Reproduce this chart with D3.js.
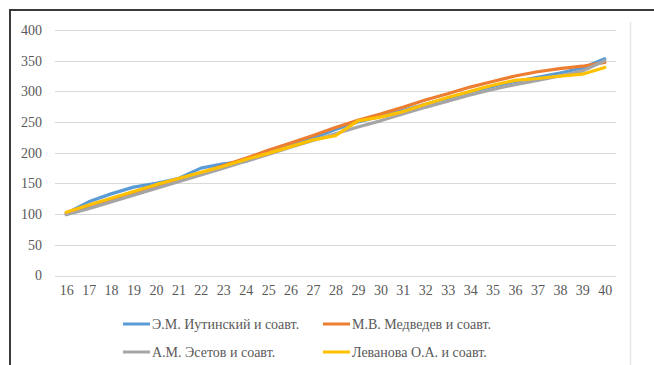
<!DOCTYPE html>
<html>
<head>
<meta charset="utf-8">
<script src="https://cdn.jsdelivr.net/npm/d3@7"></script>
<style>
  html, body { margin: 0; padding: 0; background: #fff; }
  svg { display: block; }
</style>
</head>
<body>
<svg id="chart" width="654" height="365"></svg>
<script>
// Categories (x axis) and series values
const categories = ["16","17","18","19","20","21","22","23","24","25","26","27","28","29","30","31","32","33","34","35","36","37","38","39","40"];
const yTicks = [0, 50, 100, 150, 200, 250, 300, 350, 400];

const seriesNames = [
  "Э.М. Иутинский и соавт.",
  "М.В. Медведев и соавт.",
  "А.М. Эсетов и соавт.",
  "Леванова О.А. и соавт."
];
const seriesColors = ["#5B9BD5", "#ED7D31", "#A5A5A5", "#FFC000"];

const iutinsky  = [101,120,133,144,150,158,175,182,186,199,211,224,238,250,259,269,279,289,299,308,316,323,330,338,353];
const medvedev  = [101,112,123,134,144,155,167,179,191,204,216,228,241,253,263,274,286,296,307,316,325,332,337,341,347];
const esetov    = [ 99,109,120,131,142,153,164,175,186,197,209,220,231,242,252,263,274,284,294,303,311,318,325,333,350];
const levanova  = [103,115,126,137,148,158,168,178,189,199,210,221,228,252,258,267,279,290,300,310,318,321,325,328,339];

const seriesValues = [iutinsky, medvedev, esetov, levanova];

const FONT = "'Liberation Serif', 'Times New Roman', serif";
const TEXT_COLOR = "#595959";

const svg = d3.select("#chart");

// Outer frame
svg.append("path")
  .attr("d", "M10,365 V10 H654")
  .attr("fill", "none")
  .attr("stroke", "#3a3a3a")
  .attr("stroke-width", 2);

// Right separator line
svg.append("line")
  .attr("x1", 630.5).attr("x2", 630.5)
  .attr("y1", 22).attr("y2", 365)
  .attr("stroke", "#e6e6e6").attr("stroke-width", 1.5);

const plot = { left: 55, right: 616, top: 30, bottom: 275.5 };

const x = d3.scalePoint()
  .domain(categories)
  .range([plot.left, plot.right])
  .padding(0.5);

const y = d3.scaleLinear()
  .domain([0, 400])
  .range([plot.bottom, plot.top]);

// Gridlines
svg.append("g")
  .selectAll("line")
  .data(yTicks)
  .join("line")
  .attr("x1", plot.left).attr("x2", plot.right)
  .attr("y1", d => Math.round(y(d)) + 0.5)
  .attr("y2", d => Math.round(y(d)) + 0.5)
  .attr("stroke", "#d9d9d9").attr("stroke-width", 1);

// Y axis labels
const yAxis = d3.axisLeft(y).tickValues(yTicks).tickSize(0).tickPadding(0);
const gy = svg.append("g")
  .attr("transform", `translate(${plot.left - 13},0)`)
  .call(yAxis);
gy.select(".domain").remove();
gy.selectAll("text")
  .style("font-family", FONT)
  .style("font-size", "14px")
  .style("fill", TEXT_COLOR);

// X axis labels
const xAxis = d3.axisBottom(x).tickSize(0).tickPadding(0);
const gx = svg.append("g")
  .attr("transform", `translate(0,${plot.bottom + 10})`)
  .call(xAxis);
gx.select(".domain").remove();
gx.selectAll("text")
  .style("font-family", FONT)
  .style("font-size", "14px")
  .style("fill", TEXT_COLOR);

// Series lines
const line = d3.line()
  .x((d, i) => x(categories[i]))
  .y(d => y(d));

seriesValues.forEach((vals, k) => {
  svg.append("path")
    .datum(vals)
    .attr("d", line)
    .attr("fill", "none")
    .attr("stroke", seriesColors[k])
    .attr("stroke-width", 3.2)
    .attr("stroke-linejoin", "round")
    .attr("stroke-linecap", "round");
});

// Legend (2 x 2)
const legendPos = [
  { x: 123, y: 324 },
  { x: 323, y: 324 },
  { x: 123, y: 352 },
  { x: 323, y: 352 }
];
const legend = svg.append("g");
seriesNames.forEach((name, k) => {
  const p = legendPos[k];
  legend.append("line")
    .attr("x1", p.x).attr("x2", p.x + 27)
    .attr("y1", p.y).attr("y2", p.y)
    .attr("stroke", seriesColors[k]).attr("stroke-width", 3);
  legend.append("text")
    .attr("x", p.x + 29)
    .attr("y", p.y)
    .attr("dy", "0.35em")
    .style("font-family", FONT)
    .style("font-size", "14px")
    .style("fill", TEXT_COLOR)
    .text(name);
});
</script>
</body>
</html>
